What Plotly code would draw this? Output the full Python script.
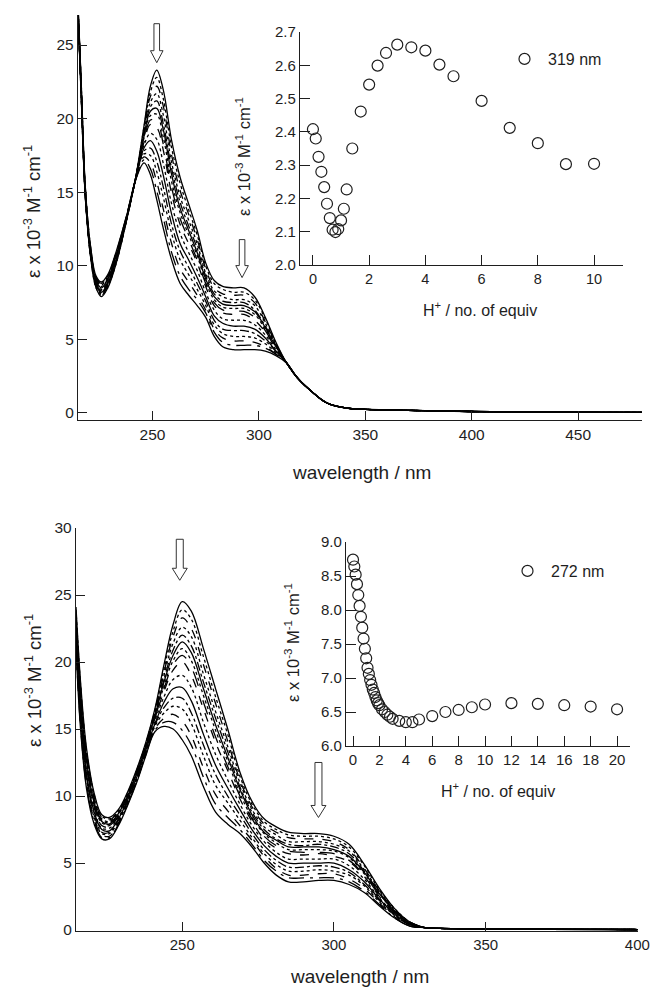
import plotly.graph_objects as go

# ---------------- Panel 1 spectra (top) ----------------
wl1 = [215, 216.5, 218.5, 221, 223.5, 226, 229, 233, 238, 242, 246, 249, 252, 255,
       259, 263, 267, 271, 275, 279, 283, 288, 293, 298, 303, 308, 313]
tail1_wl = [318, 324, 332, 341, 350, 370, 400, 440, 480]
tail1_eps = [2.4, 1.56, 0.68, 0.34, 0.25, 0.18, 0.10, 0.06, 0.04]

p1_c0 = [27.2, 21.5, 14.5, 10.5, 8.5, 7.9, 8.5, 10.2, 13.2, 15.9, 19.5, 22.2, 23.3, 22.0, 18.5, 16.0, 14.2, 12.4, 10.2, 9.0, 8.6, 8.5, 8.5, 7.9, 6.5, 4.8, 3.4]
p1_c0b = [27.2, 21.6, 14.5, 10.5, 8.5, 8.0, 8.6, 10.2, 13.2, 15.9, 19.4, 21.8, 22.8, 21.4, 18.0, 15.6, 13.8, 12.1, 10.0, 8.8, 8.4, 8.2, 8.2, 7.7, 6.4, 4.7, 3.4]
p1_c1 = [27.3, 21.6, 14.6, 10.6, 8.6, 8.0, 8.6, 10.3, 13.2, 15.9, 19.2, 21.5, 22.2, 20.9, 17.5, 15.1, 13.5, 11.8, 9.8, 8.5, 8.1, 8.0, 8.0, 7.5, 6.2, 4.7, 3.4]
p1_c1b = [27.3, 21.7, 14.6, 10.6, 8.6, 8.1, 8.7, 10.3, 13.3, 15.9, 19.1, 21.1, 21.7, 20.3, 17.0, 14.7, 13.1, 11.5, 9.5, 8.3, 7.9, 7.7, 7.7, 7.3, 6.1, 4.6, 3.4]
p1_c2 = [27.3, 21.7, 14.7, 10.7, 8.7, 8.1, 8.7, 10.4, 13.3, 15.9, 18.9, 20.8, 21.2, 19.7, 16.6, 14.3, 12.7, 11.2, 9.3, 8.1, 7.6, 7.5, 7.5, 7.0, 5.9, 4.6, 3.4]
p1_c2b = [27.3, 21.8, 14.7, 10.7, 8.7, 8.2, 8.8, 10.4, 13.3, 15.9, 18.8, 20.5, 20.7, 19.3, 16.2, 13.9, 12.4, 10.9, 9.1, 7.9, 7.4, 7.3, 7.3, 6.9, 5.8, 4.5, 3.4]
p1_c3 = [27.4, 21.8, 14.7, 10.7, 8.8, 8.2, 8.8, 10.5, 13.3, 15.9, 18.7, 20.2, 20.3, 18.8, 15.7, 13.6, 12.1, 10.7, 8.9, 7.7, 7.2, 7.1, 7.1, 6.7, 5.7, 4.5, 3.4]
p1_c3b = [27.4, 21.9, 14.8, 10.8, 8.8, 8.3, 8.9, 10.5, 13.3, 15.9, 18.5, 19.9, 19.9, 18.3, 15.3, 13.2, 11.8, 10.4, 8.8, 7.5, 7.0, 6.9, 6.9, 6.5, 5.6, 4.4, 3.4]
p1_c4 = [27.4, 21.9, 14.8, 10.8, 8.9, 8.3, 8.9, 10.6, 13.3, 15.9, 18.4, 19.6, 19.4, 17.9, 14.9, 12.8, 11.5, 10.2, 8.6, 7.3, 6.8, 6.7, 6.7, 6.3, 5.5, 4.4, 3.4]
p1_c5 = [27.5, 22.0, 14.9, 10.9, 8.9, 8.4, 9.0, 10.6, 13.4, 15.9, 18.2, 19.0, 18.6, 17.0, 14.2, 12.2, 10.9, 9.7, 8.2, 7.0, 6.4, 6.3, 6.3, 6.0, 5.3, 4.3, 3.4]
p1_c6 = [27.5, 22.1, 14.9, 10.9, 9.0, 8.5, 9.1, 10.7, 13.4, 15.8, 18.0, 18.5, 17.8, 16.2, 13.5, 11.5, 10.4, 9.2, 7.9, 6.6, 6.1, 5.9, 5.9, 5.7, 5.1, 4.2, 3.4]
p1_c7 = [27.6, 22.2, 15.0, 11.0, 9.1, 8.6, 9.1, 10.8, 13.4, 15.8, 17.8, 18.0, 17.1, 15.4, 12.8, 11.0, 9.9, 8.8, 7.6, 6.3, 5.7, 5.6, 5.6, 5.4, 4.9, 4.2, 3.4]
p1_c8 = [27.6, 22.3, 15.0, 11.0, 9.1, 8.7, 9.2, 10.8, 13.4, 15.8, 17.6, 17.5, 16.4, 14.7, 12.2, 10.4, 9.4, 8.4, 7.3, 6.0, 5.4, 5.2, 5.2, 5.1, 4.7, 4.1, 3.4]
p1_c9 = [27.7, 22.4, 15.1, 11.1, 9.2, 8.8, 9.3, 10.9, 13.5, 15.8, 17.4, 17.0, 15.7, 13.9, 11.5, 9.8, 8.9, 8.0, 7.0, 5.7, 5.1, 4.9, 4.9, 4.8, 4.5, 4.0, 3.4]
p1_c10 = [27.7, 22.4, 15.2, 11.2, 9.2, 8.8, 9.3, 10.9, 13.5, 15.8, 17.2, 16.6, 15.1, 13.3, 10.9, 9.3, 8.4, 7.7, 6.8, 5.5, 4.8, 4.6, 4.6, 4.6, 4.4, 4.0, 3.4]
p1_c11 = [27.8, 22.5, 15.2, 11.2, 9.3, 8.9, 9.4, 11.0, 13.5, 15.8, 17.0, 16.2, 14.5, 12.6, 10.4, 8.8, 8.0, 7.3, 6.5, 5.2, 4.5, 4.3, 4.3, 4.3, 4.2, 3.9, 3.4]
p1_curves = [p1_c0, p1_c0b, p1_c1, p1_c1b, p1_c2, p1_c2b, p1_c3, p1_c3b,
             p1_c4, p1_c5, p1_c6, p1_c7, p1_c8, p1_c9, p1_c10, p1_c11]

# ---------------- Panel 1 inset (319 nm) ----------------
eq1 = [0, 0.1, 0.2, 0.3, 0.4, 0.5, 0.6, 0.7, 0.8, 0.9, 1.0, 1.1, 1.2, 1.4, 1.7, 2.0,
       2.3, 2.6, 3.0, 3.5, 4.0, 4.5, 5.0, 6, 7, 8, 9, 10]
eps1 = [2.408, 2.380, 2.325, 2.280, 2.234, 2.184, 2.141, 2.106, 2.099, 2.108, 2.134,
        2.169, 2.227, 2.350, 2.461, 2.542, 2.599, 2.637, 2.662, 2.654, 2.644, 2.602,
        2.567, 2.493, 2.412, 2.366, 2.303, 2.304]

# ---------------- Panel 2 spectra (bottom) ----------------
wl2 = [215, 216.5, 218.5, 221, 223.5, 226, 229, 232, 235, 238, 241, 244, 247, 250, 253,
       257, 261, 265, 269, 273, 277, 281, 285, 290, 295, 300, 305, 310, 315, 320, 325]
tail2_wl = [330, 335, 340, 350, 370, 400]
tail2_eps = [0.18, 0.12, 0.10, 0.08, 0.06, 0.04]

p2_c0 = [24.1, 18.5, 13.5, 10.2, 8.6, 8.4, 9.0, 10.3, 12.0, 14.0, 16.5, 19.8, 22.8, 24.5, 23.8, 21.0, 18.0, 15.0, 11.8, 9.6, 8.3, 7.7, 7.3, 7.2, 7.2, 7.0, 6.4, 4.9, 3.1, 1.6, 0.6]
p2_c0b = [23.9, 18.3, 13.3, 10.1, 8.5, 8.3, 8.9, 10.2, 11.9, 13.9, 16.4, 19.5, 22.3, 23.9, 23.2, 20.4, 17.4, 14.6, 11.5, 9.4, 8.1, 7.5, 7.1, 7.0, 7.0, 6.8, 6.2, 4.8, 3.0, 1.6, 0.6]
p2_c1 = [23.7, 18.1, 13.1, 9.9, 8.4, 8.2, 8.9, 10.2, 11.9, 13.9, 16.3, 19.2, 21.9, 23.3, 22.5, 19.8, 16.9, 14.1, 11.2, 9.2, 7.9, 7.3, 6.9, 6.8, 6.8, 6.6, 6.0, 4.6, 2.9, 1.5, 0.6]
p2_c1b = [23.5, 17.9, 13.0, 9.8, 8.3, 8.1, 8.8, 10.1, 11.8, 13.8, 16.2, 19.0, 21.4, 22.6, 21.9, 19.1, 16.3, 13.7, 11.0, 9.0, 7.7, 7.1, 6.6, 6.6, 6.6, 6.4, 5.9, 4.5, 2.9, 1.5, 0.6]
p2_c2 = [23.4, 17.7, 12.8, 9.6, 8.2, 8.0, 8.7, 10.1, 11.8, 13.8, 16.1, 18.7, 20.9, 22.0, 21.2, 18.5, 15.8, 13.3, 10.7, 8.8, 7.5, 6.8, 6.4, 6.3, 6.4, 6.2, 5.7, 4.4, 2.8, 1.4, 0.5]
p2_c2b = [23.2, 17.5, 12.6, 9.5, 8.1, 7.9, 8.7, 10.0, 11.7, 13.7, 16.0, 18.5, 20.5, 21.5, 20.7, 18.0, 15.3, 12.9, 10.5, 8.6, 7.3, 6.7, 6.2, 6.2, 6.2, 6.0, 5.5, 4.3, 2.7, 1.4, 0.5]
p2_c3 = [23.0, 17.3, 12.5, 9.4, 8.0, 7.9, 8.6, 10.0, 11.7, 13.7, 15.9, 18.2, 20.1, 21.0, 20.1, 17.5, 14.9, 12.6, 10.2, 8.4, 7.2, 6.5, 6.0, 6.0, 6.0, 5.9, 5.4, 4.2, 2.7, 1.4, 0.5]
p2_c3b = [22.9, 17.1, 12.3, 9.3, 7.9, 7.8, 8.5, 9.9, 11.6, 13.6, 15.8, 18.0, 19.8, 20.5, 19.6, 17.0, 14.4, 12.2, 10.0, 8.3, 7.0, 6.3, 5.9, 5.8, 5.8, 5.7, 5.2, 4.1, 2.6, 1.3, 0.5]
p2_c4 = [22.7, 17.0, 12.2, 9.2, 7.8, 7.7, 8.5, 9.9, 11.6, 13.6, 15.8, 17.8, 19.4, 20.0, 19.0, 16.5, 14.0, 11.9, 9.8, 8.1, 6.8, 6.1, 5.7, 5.6, 5.7, 5.5, 5.1, 4.0, 2.5, 1.3, 0.5]
p2_c5 = [22.5, 16.6, 11.9, 9.0, 7.6, 7.6, 8.4, 9.8, 11.5, 13.5, 15.6, 17.4, 18.7, 19.0, 18.1, 15.5, 13.1, 11.2, 9.4, 7.8, 6.6, 5.8, 5.3, 5.3, 5.3, 5.3, 4.8, 3.8, 2.4, 1.2, 0.4]
p2_c6 = [22.2, 16.3, 11.6, 8.8, 7.5, 7.4, 8.3, 9.7, 11.4, 13.4, 15.4, 17.0, 18.0, 18.1, 17.1, 14.6, 12.3, 10.6, 9.0, 7.5, 6.3, 5.5, 5.0, 5.0, 5.0, 5.0, 4.5, 3.6, 2.3, 1.2, 0.4]
p2_c7 = [21.9, 16.1, 11.4, 8.6, 7.3, 7.3, 8.2, 9.6, 11.3, 13.3, 15.3, 16.6, 17.3, 17.3, 16.2, 13.8, 11.6, 10.0, 8.6, 7.2, 6.0, 5.2, 4.7, 4.7, 4.8, 4.7, 4.3, 3.4, 2.2, 1.1, 0.4]
p2_c8 = [21.7, 15.8, 11.2, 8.4, 7.2, 7.2, 8.1, 9.5, 11.2, 13.2, 15.2, 16.2, 16.7, 16.5, 15.4, 13.0, 10.8, 9.5, 8.2, 6.9, 5.7, 4.9, 4.4, 4.4, 4.5, 4.4, 4.1, 3.3, 2.1, 1.1, 0.4]
p2_c9 = [21.4, 15.5, 10.9, 8.2, 7.1, 7.0, 8.0, 9.4, 11.1, 13.1, 15.0, 15.8, 16.1, 15.6, 14.5, 12.1, 10.1, 8.9, 7.8, 6.7, 5.5, 4.6, 4.1, 4.1, 4.2, 4.2, 3.8, 3.1, 2.0, 1.0, 0.3]
p2_c10 = [21.2, 15.2, 10.7, 8.1, 6.9, 6.9, 7.9, 9.4, 11.1, 13.1, 14.9, 15.5, 15.5, 14.9, 13.8, 11.4, 9.4, 8.4, 7.5, 6.4, 5.2, 4.4, 3.9, 3.9, 3.9, 3.9, 3.6, 2.9, 1.9, 0.9, 0.3]
p2_c11 = [21.0, 15.0, 10.5, 7.9, 6.8, 6.8, 7.8, 9.3, 11.0, 13.0, 14.8, 15.2, 15.0, 14.2, 13.0, 10.7, 8.8, 7.9, 7.2, 6.2, 5.0, 4.1, 3.6, 3.6, 3.7, 3.7, 3.4, 2.8, 1.8, 0.9, 0.3]
p2_curves = [p2_c0, p2_c0b, p2_c1, p2_c1b, p2_c2, p2_c2b, p2_c3, p2_c3b,
             p2_c4, p2_c5, p2_c6, p2_c7, p2_c8, p2_c9, p2_c10, p2_c11]

# ---------------- Panel 2 inset (272 nm) ----------------
eq2 = [0, 0.1, 0.2, 0.3, 0.4, 0.5, 0.6, 0.7, 0.8, 0.9, 1.0, 1.1, 1.2, 1.3, 1.4, 1.5,
       1.6, 1.7, 1.8, 1.9, 2.0, 2.2, 2.4, 2.6, 2.8, 3.0, 3.5, 4.0, 4.5, 5.0, 6, 7, 8,
       9, 10, 12, 14, 16, 18, 20]
eps2 = [8.74, 8.64, 8.52, 8.38, 8.22, 8.06, 7.90, 7.74, 7.58, 7.43, 7.29, 7.15, 7.06,
        6.97, 6.90, 6.83, 6.78, 6.72, 6.67, 6.63, 6.60, 6.54, 6.50, 6.46, 6.43, 6.40,
        6.37, 6.35, 6.35, 6.39, 6.44, 6.50, 6.53, 6.57, 6.61, 6.63, 6.62, 6.60, 6.58,
        6.54]

# arrows: (wavelength, tip value, length in px)
arrows_p1 = [(252.0, 23.8, 39), (292.1, 9.2, 38)]
arrows_p2 = [(249.2, 26.1, 41), (294.9, 8.4, 55)]

dashes = ['solid', 'dot', 'dash', 'dot', 'dashdot', 'solid', 'dot', 'longdash',
          'dash', 'dot', 'solid', 'dashdot', 'dot', 'dash', 'longdashdot', 'solid']

FONT = "Liberation Sans, Arial, sans-serif"
INK = "#1e1e1e"

fig = go.Figure()

for i, c in enumerate(p1_curves):
    fig.add_trace(go.Scatter(x=wl1 + tail1_wl, y=c + tail1_eps, mode='lines',
                             line=dict(color='black', width=1.3, dash=dashes[i], shape='spline'),
                             xaxis='x', yaxis='y', showlegend=False, hoverinfo='skip'))
for i, c in enumerate(p2_curves):
    fig.add_trace(go.Scatter(x=wl2 + tail2_wl, y=c + tail2_eps, mode='lines',
                             line=dict(color='black', width=1.3, dash=dashes[i], shape='spline'),
                             xaxis='x3', yaxis='y3', showlegend=False, hoverinfo='skip'))

fig.add_trace(go.Scatter(x=eq1, y=eps1, mode='markers', name='319 nm',
                         marker=dict(symbol='circle-open', size=11, color=INK, line=dict(width=1.2)),
                         xaxis='x2', yaxis='y2', legend='legend', showlegend=True))
fig.add_trace(go.Scatter(x=eq2, y=eps2, mode='markers', name='272 nm',
                         marker=dict(symbol='circle-open', size=11, color=INK, line=dict(width=1.2)),
                         xaxis='x4', yaxis='y4', legend='legend2', showlegend=True))

W, H = 651, 988


def ax(domain, rng, tickvals, anchor, ticklen, fsize, fmt=None, overflow=None):
    d = dict(domain=domain, range=rng, tickvals=tickvals, anchor=anchor,
             showline=True, linecolor=INK, linewidth=1.3, mirror=False,
             ticks='inside', ticklen=ticklen, tickwidth=1.2, tickcolor=INK,
             showgrid=False, zeroline=False, automargin=False,
             tickfont=dict(family=FONT, size=fsize, color=INK))
    if fmt:
        d['tickformat'] = fmt
    if overflow:
        d['ticklabeloverflow'] = overflow
    return d


def arrow_shape(xref, yref, wl, val, L, sh, hh, hl):
    path = (f"M {-sh},{L} L {sh},{L} L {sh},{hl} L {hh},{hl} L 0,0 "
            f"L {-hh},{hl} L {-sh},{hl} Z")
    return dict(type='path', xref=xref, yref=yref, xsizemode='pixel', ysizemode='pixel',
                xanchor=wl, yanchor=val, path=path,
                line=dict(color='#333333', width=1), fillcolor='white', layer='above')


shapes = []
for wl, v, L in arrows_p1:
    shapes.append(arrow_shape('x', 'y', wl, v, L, 2.8, 6.3, 12))
for wl, v, L in arrows_p2:
    shapes.append(arrow_shape('x3', 'y3', wl, v, L, 3.5, 7.5, 12))

ytitle = "ε x 10<sup>-3</sup> M<sup>-1</sup> cm<sup>-1</sup>"
xtitle_in = "H<sup>+</sup> / no. of equiv"


def ann(text, px, py, size, angle=0):
    return dict(text=text, x=px / W, y=1 - py / H, xref='paper', yref='paper',
                showarrow=False, textangle=angle, xanchor='center', yanchor='middle',
                font=dict(family=FONT, size=size, color=INK))


annotations = [
    ann("wavelength / nm", 361, 472, 19),
    ann(ytitle, 32, 212, 18.5, -90),
    ann(xtitle_in, 480, 309, 16),
    ann(ytitle, 243, 157, 16.5, -90),
    ann("wavelength / nm", 359, 976, 19),
    ann(ytitle, 33, 681, 18.5, -90),
    ann(xtitle_in, 498, 790, 16),
    ann(ytitle, 292, 643, 16.5, -90),
]

fig.update_layout(
    width=W, height=H, autosize=False,
    margin=dict(l=0, r=0, t=0, b=0, autoexpand=False),
    paper_bgcolor='white', plot_bgcolor='rgba(0,0,0,0)',
    font=dict(family=FONT, color=INK),
    xaxis=ax([78 / W, 642 / W], [215, 480], [250, 300, 350, 400, 450], 'y', 9, 15.5),
    yaxis=ax([1 - 420 / H, 1 - 15 / H], [-0.476, 27.04], [0, 5, 10, 15, 20, 25], 'x', 9, 15.5),
    xaxis2=ax([300 / W, 623 / W], [-0.46, 11.03], [0, 2, 4, 6, 8, 10], 'y2', 10, 14.5),
    yaxis2=ax([1 - 265 / H, 1 - 32 / H], [2.0, 2.7], [2.0, 2.1, 2.2, 2.3, 2.4, 2.5, 2.6, 2.7], 'x2', 10, 15, '.1f'),
    xaxis3=ax([76 / W, 638 / W], [215, 400.2], [250, 300, 350, 400], 'y3', 9, 15, None, 'allow'),
    yaxis3=ax([1 - 931 / H, 1 - 528 / H], [-0.07, 30], [0, 5, 10, 15, 20, 25, 30], 'x3', 9, 15.5),
    xaxis4=ax([346 / W, 630 / W], [-0.53, 20.98], list(range(0, 21, 2)), 'y4', 10, 15),
    yaxis4=ax([1 - 746 / H, 1 - 542 / H], [6.0, 9.0], [6.0, 6.5, 7.0, 7.5, 8.0, 8.5, 9.0], 'x4', 10, 15, '.1f'),
    legend=dict(x=501 / W, y=1 - 59 / H, xanchor='left', yanchor='middle', itemwidth=37,
                bgcolor='rgba(0,0,0,0)', font=dict(family=FONT, size=16, color=INK)),
    legend2=dict(x=504 / W, y=1 - 571 / H, xanchor='left', yanchor='middle', itemwidth=37,
                 bgcolor='rgba(0,0,0,0)', font=dict(family=FONT, size=16, color=INK)),
    shapes=shapes,
    annotations=annotations,
)

fig.write_html("out.html")
